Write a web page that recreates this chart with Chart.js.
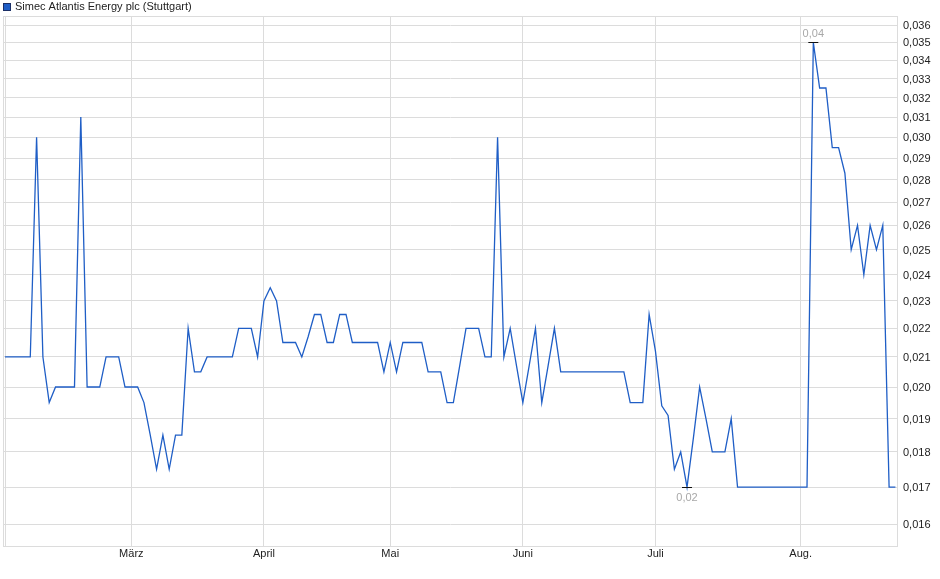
<!DOCTYPE html>
<html>
<head>
<meta charset="utf-8">
<script src="https://cdn.jsdelivr.net/npm/chart.js@4.4.1/dist/chart.umd.min.js"></script>
<style>
  html, body { margin: 0; padding: 0; background: #fff; }
  #wrap { width: 940px; height: 579px; }
</style>
</head>
<body>
<div id="wrap"><canvas id="priceChart" width="940" height="579"></canvas></div>
<script>
// price series, one value per trading day (Feb .. Aug)
const prices = [
  0.021, 0.021, 0.021, 0.021, 0.021, 0.030, 0.021, 0.0195, 0.020, 0.020,
  0.020, 0.020, 0.031, 0.020, 0.020, 0.020, 0.021, 0.021, 0.021, 0.020,
  0.020, 0.020, 0.0195, 0.0185, 0.0175, 0.0185, 0.0175, 0.0185, 0.0185, 0.022,
  0.0205, 0.0205, 0.021, 0.021, 0.021, 0.021, 0.021, 0.022, 0.022, 0.022,
  0.021, 0.023, 0.0235, 0.023, 0.0215, 0.0215, 0.0215, 0.021, 0.0217, 0.0225,
  0.0225, 0.0215, 0.0215, 0.0225, 0.0225, 0.0215, 0.0215, 0.0215, 0.0215, 0.0215,
  0.0205, 0.0215, 0.0205, 0.0215, 0.0215, 0.0215, 0.0215, 0.0205, 0.0205, 0.0205,
  0.0195, 0.0195, 0.0207, 0.022, 0.022, 0.022, 0.021, 0.021, 0.030, 0.021,
  0.022, 0.0207, 0.0195, 0.0207, 0.022, 0.0195, 0.0207, 0.022, 0.0205, 0.0205,
  0.0205, 0.0205, 0.0205, 0.0205, 0.0205, 0.0205, 0.0205, 0.0205, 0.0205, 0.0195,
  0.0195, 0.0195, 0.0225, 0.0212, 0.0194, 0.0191, 0.0175, 0.018, 0.017, 0.0184,
  0.020, 0.019, 0.018, 0.018, 0.018, 0.019, 0.017, 0.017, 0.017, 0.017,
  0.017, 0.017, 0.017, 0.017, 0.017, 0.017, 0.017, 0.017, 0.035, 0.0325,
  0.0325, 0.0295, 0.0295, 0.0283, 0.025, 0.026, 0.024, 0.026, 0.025, 0.026,
  0.017, 0.017
];

// month labels sit at these trading-day positions
const monthTicks  = [20, 41, 61, 82, 103, 126];
const monthLabels = ["März", "April", "Mai", "Juni", "Juli", "Aug."];

const yTicks = [
  0.016, 0.017, 0.018, 0.019, 0.020, 0.021, 0.022, 0.023, 0.024, 0.025, 0.026,
  0.027, 0.028, 0.029, 0.030, 0.031, 0.032, 0.033, 0.034, 0.035, 0.036
];

const seriesLabel = "Simec Atlantis Energy plc (Stuttgart)";
const lineColor = "#1f5ec6";
const gridColor = "#dcdcdc";
const FONT = "'Liberation Sans', Arial, sans-serif";

function fmt(v, d) {
  return v.toFixed(d).replace(".", ",");
}

// ------------------------------------------------------------
// small plugins: frame, legend, high/low markers
// ------------------------------------------------------------
const framePlugin = {
  id: "frame",
  beforeDatasetsDraw(chart) {
    const { ctx, chartArea: a } = chart;
    ctx.save();
    ctx.strokeStyle = gridColor;
    ctx.lineWidth = 1;
    ctx.strokeRect(a.left + 0.5, a.top + 0.5, a.right - a.left - 1, a.bottom - a.top);
    ctx.restore();
  }
};

const legendPlugin = {
  id: "miniLegend",
  afterDraw(chart) {
    const ctx = chart.ctx;
    const ds = chart.data.datasets[0];
    ctx.save();
    ctx.fillStyle = ds.borderColor;
    ctx.fillRect(3, 3, 7, 7);
    ctx.strokeStyle = "#1b2f66";
    ctx.lineWidth = 1;
    ctx.strokeRect(3.5, 3.5, 7, 7);
    ctx.fillStyle = "#222";
    ctx.font = "11px " + FONT;
    ctx.textBaseline = "middle";
    ctx.textAlign = "left";
    ctx.fillText(ds.label, 15, 7);
    ctx.restore();
  }
};

const highLowPlugin = {
  id: "highLow",
  afterDatasetsDraw(chart) {
    const ctx = chart.ctx;
    const xs = chart.scales.x, ys = chart.scales.y;
    const hi = Math.max(...prices), lo = Math.min(...prices);
    const marks = [
      { i: prices.indexOf(hi), v: hi, dy: -8.5 },
      { i: prices.indexOf(lo), v: lo, dy: 10 }
    ];
    ctx.save();
    ctx.font = "11px " + FONT;
    ctx.textAlign = "center";
    ctx.textBaseline = "middle";
    marks.forEach(m => {
      const px = xs.getPixelForValue(m.i);
      const py = Math.round(ys.getPixelForValue(m.v)) + 0.5;
      ctx.strokeStyle = "#111";
      ctx.lineWidth = 1;
      ctx.beginPath();
      ctx.moveTo(px - 5, py);
      ctx.lineTo(px + 5, py);
      ctx.stroke();
      ctx.fillStyle = "#a8a8a8";
      ctx.fillText(fmt(m.v, 2), px, py + m.dy);
    });
    ctx.restore();
  }
};

// ------------------------------------------------------------
// CHART
// ------------------------------------------------------------
const ctx = document.getElementById("priceChart").getContext("2d");

new Chart(ctx, {
  type: "line",
  data: {
    datasets: [
      {
        label: seriesLabel,
        data: prices.map((p, i) => ({ x: i, y: p })),
        borderColor: lineColor,
        backgroundColor: lineColor,
        borderWidth: 1.3,
        pointRadius: 0,
        tension: 0,
        fill: false
      }
    ]
  },
  options: {
    responsive: false,
    animation: false,
    devicePixelRatio: 1,
    layout: { padding: { top: 16, left: 3, right: 0, bottom: 0 } },
    plugins: {
      legend: { display: false },
      tooltip: { enabled: false }
    },
    scales: {
      x: {
        type: "linear",
        min: -0.32,
        max: 141.41,
        afterBuildTicks: scale => {
          scale.ticks = [0, ...monthTicks].map(v => ({ value: v }));
        },
        afterFit: scale => { scale.height = 33; },
        grid: { color: gridColor, drawTicks: false },
        border: { display: false },
        ticks: {
          autoSkip: false,
          maxRotation: 0,
          padding: 1,
          color: "#222",
          font: { family: FONT, size: 11 },
          callback: v => {
            const k = monthTicks.indexOf(v);
            return k < 0 ? "" : monthLabels[k];
          }
        }
      },
      y: {
        type: "logarithmic",
        position: "right",
        min: 0.01545,
        max: 0.03653,
        afterBuildTicks: scale => {
          scale.ticks = yTicks.map(v => ({ value: v }));
        },
        afterFit: scale => { scale.width = 42; },
        grid: { color: gridColor, drawTicks: false },
        border: { display: false },
        ticks: {
          autoSkip: false,
          padding: 5,
          labelOffset: 1,
          color: "#222",
          font: { family: FONT, size: 11 },
          callback: v => fmt(v, 3)
        }
      }
    }
  },
  plugins: [framePlugin, legendPlugin, highLowPlugin]
});
</script>
</body>
</html>
